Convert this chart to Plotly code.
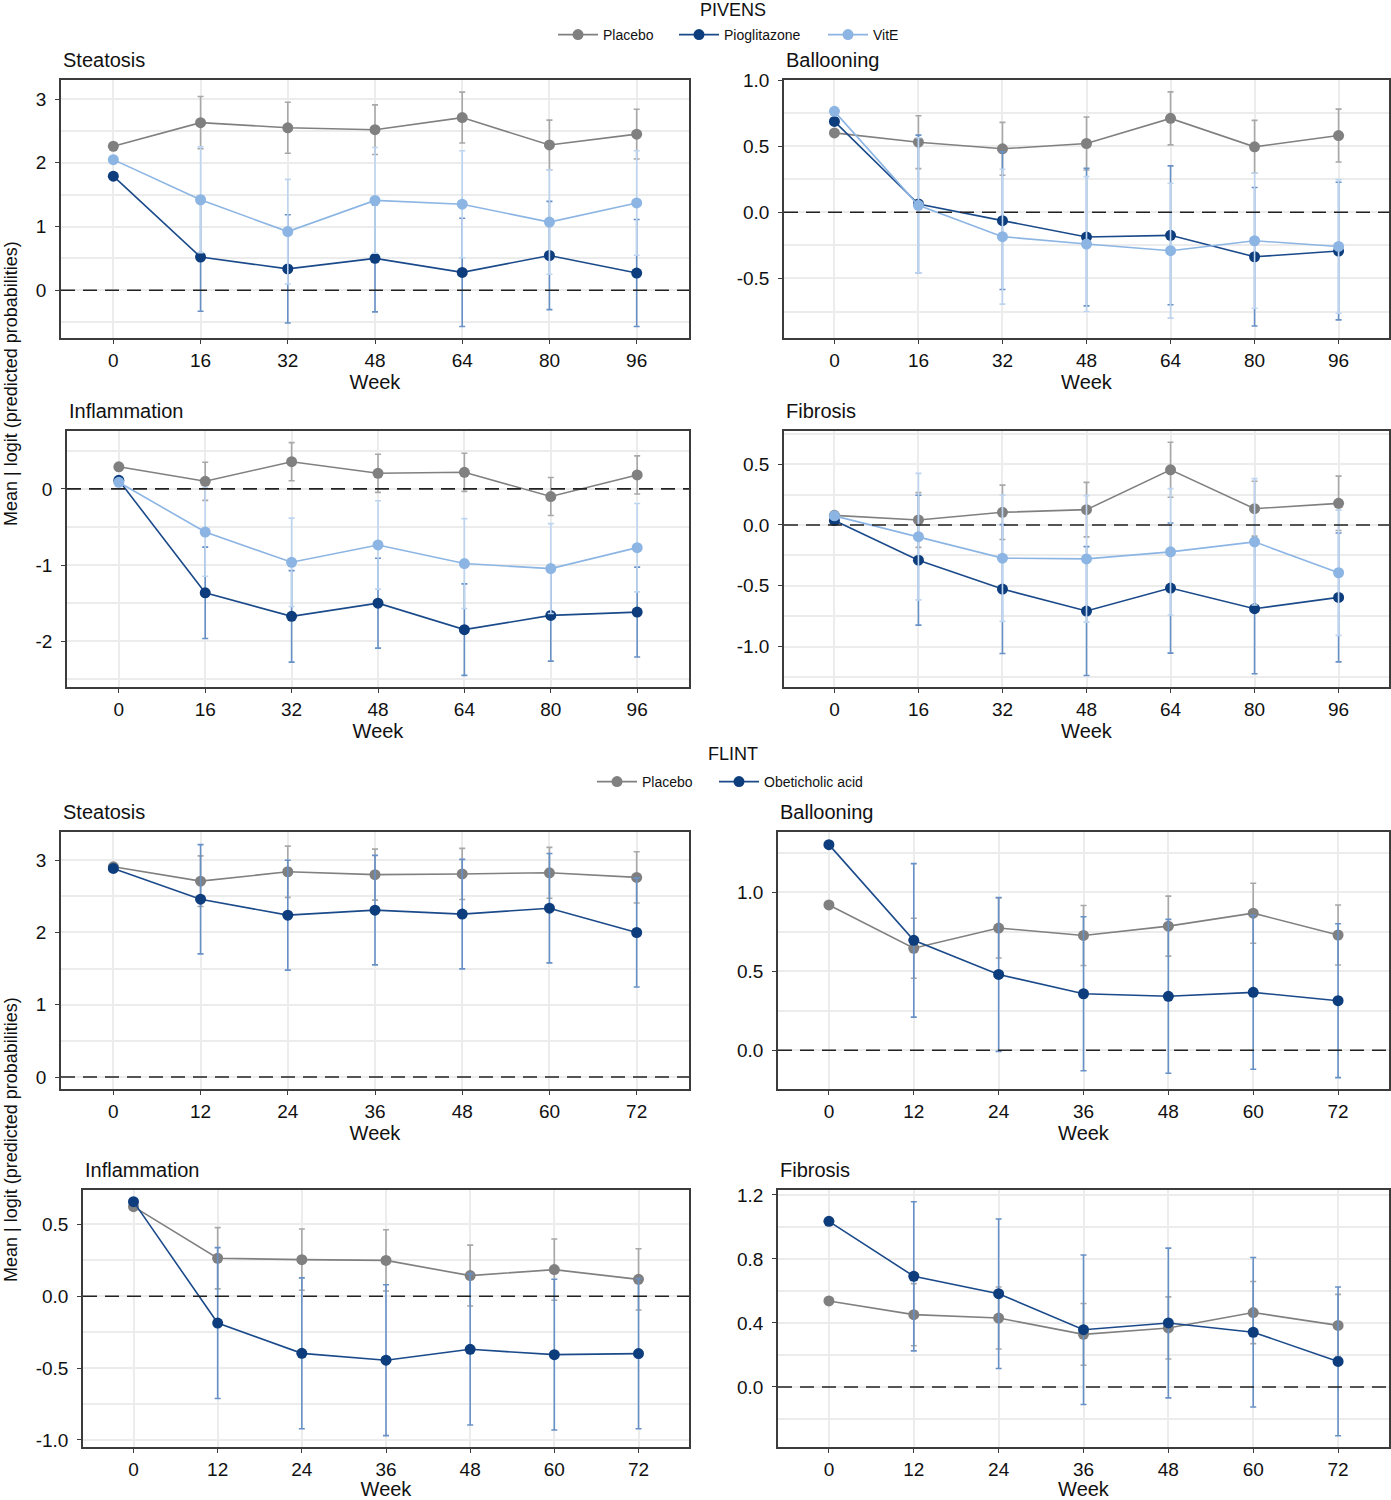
import plotly.graph_objects as go

# ---------------- DATA ----------------
piv_weeks = [0, 16, 32, 48, 64, 80, 96]
flint_weeks = [0, 12, 24, 36, 48, 60, 72]

# PIVENS - Steatosis
piv_steat_placebo = [2.26, 2.63, 2.55, 2.52, 2.71, 2.28, 2.45]
piv_steat_placebo_ci = [None, 0.41, 0.40, 0.39, 0.40, 0.39, 0.39]
piv_steat_pio = [1.79, 0.52, 0.335, 0.50, 0.28, 0.545, 0.27]
piv_steat_pio_ci = [None, 0.85, 0.85, 0.84, 0.85, 0.85, 0.84]
piv_steat_vite = [2.05, 1.42, 0.92, 1.41, 1.35, 1.07, 1.37]
piv_steat_vite_ci = [None, 0.83, 0.82, 0.83, 0.84, 0.82, 0.82]

# PIVENS - Ballooning
piv_ball_placebo = [0.60, 0.53, 0.48, 0.52, 0.71, 0.495, 0.58]
piv_ball_placebo_ci = [None, 0.20, 0.20, 0.20, 0.20, 0.20, 0.20]
piv_ball_pio = [0.687, 0.063, -0.063, -0.187, -0.174, -0.336, -0.293]
piv_ball_pio_ci = [None, 0.52, 0.52, 0.52, 0.525, 0.523, 0.52]
piv_ball_vite = [0.763, 0.053, -0.184, -0.24, -0.29, -0.215, -0.258]
piv_ball_vite_ci = [None, 0.51, 0.51, 0.51, 0.51, 0.51, 0.505]

# PIVENS - Inflammation
piv_infl_placebo = [0.29, 0.10, 0.357, 0.205, 0.218, -0.10, 0.183]
piv_infl_placebo_ci = [None, 0.25, 0.25, 0.25, 0.25, 0.25, 0.25]
piv_infl_pio = [0.113, -1.364, -1.673, -1.50, -1.847, -1.66, -1.617]
piv_infl_pio_ci = [None, 0.60, 0.60, 0.59, 0.60, 0.60, 0.59]
piv_infl_vite = [0.087, -0.566, -0.963, -0.736, -0.98, -1.046, -0.771]
piv_infl_vite_ci = [None, 0.58, 0.58, 0.58, 0.59, 0.59, 0.58]

# PIVENS - Fibrosis
piv_fib_placebo = [0.079, 0.041, 0.104, 0.126, 0.454, 0.134, 0.178]
piv_fib_placebo_ci = [None, 0.225, 0.224, 0.224, 0.226, 0.226, 0.224]
piv_fib_pio = [0.036, -0.29, -0.527, -0.708, -0.519, -0.689, -0.596]
piv_fib_pio_ci = [None, 0.534, 0.53, 0.53, 0.535, 0.535, 0.53]
piv_fib_vite = [0.075, -0.096, -0.273, -0.279, -0.221, -0.139, -0.393]
piv_fib_vite_ci = [None, 0.52, 0.52, 0.52, 0.52, 0.52, 0.515]

# FLINT - Steatosis
fl_steat_placebo = [2.909, 2.71, 2.84, 2.80, 2.81, 2.826, 2.762]
fl_steat_placebo_ci = [None, 0.35, 0.355, 0.353, 0.353, 0.352, 0.355]
fl_steat_oca = [2.886, 2.46, 2.24, 2.309, 2.254, 2.336, 2.0]
fl_steat_oca_ci = [None, 0.756, 0.76, 0.757, 0.758, 0.757, 0.755]

# FLINT - Ballooning
fl_ball_placebo = [0.920, 0.646, 0.774, 0.727, 0.786, 0.868, 0.73]
fl_ball_placebo_ci = [None, 0.19, 0.19, 0.19, 0.19, 0.19, 0.19]
fl_ball_oca = [1.302, 0.696, 0.48, 0.358, 0.342, 0.367, 0.314]
fl_ball_oca_ci = [None, 0.486, 0.487, 0.487, 0.487, 0.487, 0.487]

# FLINT - Inflammation
fl_infl_placebo = [0.624, 0.265, 0.255, 0.25, 0.144, 0.186, 0.118]
fl_infl_placebo_ci = [None, 0.213, 0.213, 0.213, 0.212, 0.213, 0.213]
fl_infl_oca = [0.659, -0.186, -0.397, -0.445, -0.369, -0.406, -0.399]
fl_infl_oca_ci = [None, 0.525, 0.525, 0.525, 0.527, 0.525, 0.523]

# FLINT - Fibrosis
fl_fib_placebo = [0.5375, 0.452, 0.431, 0.329, 0.369, 0.465, 0.385]
fl_fib_placebo_ci = [None, 0.194, 0.194, 0.193, 0.194, 0.194, 0.194]
fl_fib_oca = [1.035, 0.692, 0.583, 0.358, 0.40, 0.342, 0.16]
fl_fib_oca_ci = [None, 0.466, 0.467, 0.467, 0.468, 0.467, 0.465]

panel_titles = ["Steatosis", "Ballooning", "Inflammation", "Fibrosis"]
piv_groups = ["Placebo", "Pioglitazone", "VitE"]
flint_groups = ["Placebo", "Obeticholic acid"]

# y tick values (labels use plain hyphen minus as in the original)
ytick_sets = [
    [0, 1, 2, 3],
    [-0.5, 0.0, 0.5, 1.0],
    [-2, -1, 0],
    [-1.0, -0.5, 0.0, 0.5],
    [0, 1, 2, 3],
    [0.0, 0.5, 1.0],
    [-1.0, -0.5, 0.0, 0.5],
    [0.0, 0.4, 0.8, 1.2],
]

# ---------------- STYLE ----------------
W, H = 1391, 1500
NARROW = "Liberation Sans Narrow, Arial Narrow, Liberation Sans, sans-serif"
REG = "Liberation Sans, Arial, sans-serif"

styles = {
    "Placebo": dict(line="#808080", marker="#808080", err="#a8a8a8"),
    "Pioglitazone": dict(line="#1b4a8a", marker="#0d3d7d", err="#6791c6"),
    "VitE": dict(line="#8cb5e4", marker="#8cb5e4", err="#bdd5f0"),
    "Obeticholic acid": dict(line="#1b4a8a", marker="#0d3d7d", err="#6791c6"),
}

# panel boxes in pixels: (left, right, top, bottom)
boxes = [
    (61, 689, 80, 338), (784, 1389, 80, 338),
    (67, 689, 431, 687), (784, 1389, 431, 687),
    (61, 689, 832, 1089), (778, 1389, 832, 1089),
    (83, 689, 1190, 1447), (778, 1389, 1190, 1447),
]
yranges = [(-0.75, 3.30), (-0.95, 1.0), (-2.60, 0.76), (-1.333, 0.773),
           (-0.165, 3.39), (-0.245, 1.382), (-1.049, 0.74), (-0.375, 1.231)]
yfmts = ["{:.0f}", "{:.1f}", "{:.0f}", "{:.1f}", "{:.0f}", "{:.1f}", "{:.1f}", "{:.1f}"]

panels_data = [
    (piv_weeks, [(piv_groups[0], piv_steat_placebo, piv_steat_placebo_ci),
                 (piv_groups[1], piv_steat_pio, piv_steat_pio_ci),
                 (piv_groups[2], piv_steat_vite, piv_steat_vite_ci)]),
    (piv_weeks, [(piv_groups[0], piv_ball_placebo, piv_ball_placebo_ci),
                 (piv_groups[1], piv_ball_pio, piv_ball_pio_ci),
                 (piv_groups[2], piv_ball_vite, piv_ball_vite_ci)]),
    (piv_weeks, [(piv_groups[0], piv_infl_placebo, piv_infl_placebo_ci),
                 (piv_groups[1], piv_infl_pio, piv_infl_pio_ci),
                 (piv_groups[2], piv_infl_vite, piv_infl_vite_ci)]),
    (piv_weeks, [(piv_groups[0], piv_fib_placebo, piv_fib_placebo_ci),
                 (piv_groups[1], piv_fib_pio, piv_fib_pio_ci),
                 (piv_groups[2], piv_fib_vite, piv_fib_vite_ci)]),
    (flint_weeks, [(flint_groups[0], fl_steat_placebo, fl_steat_placebo_ci),
                   (flint_groups[1], fl_steat_oca, fl_steat_oca_ci)]),
    (flint_weeks, [(flint_groups[0], fl_ball_placebo, fl_ball_placebo_ci),
                   (flint_groups[1], fl_ball_oca, fl_ball_oca_ci)]),
    (flint_weeks, [(flint_groups[0], fl_infl_placebo, fl_infl_placebo_ci),
                   (flint_groups[1], fl_infl_oca, fl_infl_oca_ci)]),
    (flint_weeks, [(flint_groups[0], fl_fib_placebo, fl_fib_placebo_ci),
                   (flint_groups[1], fl_fib_oca, fl_fib_oca_ci)]),
]

# legend entries: (legend id, marker centre x px, centre y px)
legend_pos = {
    ("piv", "Placebo"): ("legend", 581, 35),
    ("piv", "Pioglitazone"): ("legend2", 702, 35),
    ("piv", "VitE"): ("legend3", 851, 35),
    ("fl", "Placebo"): ("legend4", 620, 782),
    ("fl", "Obeticholic acid"): ("legend5", 742, 782),
}

fig = go.Figure()
layout = dict(width=W, height=H, margin=dict(l=0, r=0, t=0, b=0, autoexpand=False),
              paper_bgcolor="white", plot_bgcolor="white", showlegend=True)
shapes, annotations = [], []


def px_x(p):
    return p / W


def px_y(p):
    return 1 - p / H


for i, (weeks, series) in enumerate(panels_data):
    n = i + 1
    xa = "x" if n == 1 else f"x{n}"
    ya = "y" if n == 1 else f"y{n}"
    xkey = "xaxis" if n == 1 else f"xaxis{n}"
    ykey = "yaxis" if n == 1 else f"yaxis{n}"
    l, r, t, b = boxes[i]
    is_piv = i < 4
    xr = [-0.1 * weeks[-1], 1.1 * weeks[-1]]
    layout[xkey] = dict(
        domain=[px_x(l), px_x(r)], anchor=ya, range=xr, automargin=False,
        tickvals=weeks, ticktext=[str(w) for w in weeks],
        showline=True, mirror=True, linecolor="#3c3c3c", linewidth=1.5,
        showgrid=True, gridcolor="#ececec", gridwidth=1.5, zeroline=False,
        ticks="outside", ticklen=4, tickcolor="#3c3c3c",
        tickfont=dict(family=NARROW, size=19, color="#111"),
        title=dict(text="Week", font=dict(family=NARROW, size=20, color="#111"), standoff=2),
    )
    y0, y1 = yranges[i]
    tv = ytick_sets[i]
    step = tv[1] - tv[0]
    layout[ykey] = dict(
        domain=[px_y(b), px_y(t)], anchor=xa, range=[y0, y1], automargin=False,
        tickvals=tv, ticktext=[yfmts[i].format(v) for v in tv],
        showline=True, mirror=True, linecolor="#3c3c3c", linewidth=1.5,
        showgrid=True, gridcolor="#ececec", gridwidth=1.5, zeroline=False,
        minor=dict(dtick=step / 2, tick0=0, showgrid=True, gridcolor="#ececec", gridwidth=1.5),
        ticks="outside", ticklen=4, tickcolor="#3c3c3c", ticklabelstandoff=5,
        tickfont=dict(family=NARROW, size=19, color="#111"),
    )
    shapes.append(dict(type="line", xref=f"{xa} domain", yref=ya, x0=0, x1=1, y0=0, y1=0,
                       line=dict(color="#222", width=1.6, dash="14px,8px"), layer="above"))
    annotations.append(dict(text=panel_titles[i % 4], x=px_x(l), y=px_y(t - 20),
                            xref="paper", yref="paper", xanchor="left", yanchor="middle",
                            showarrow=False, font=dict(family=NARROW, size=20, color="#111")))
    for name, vals, ci in series:
        st = styles[name]
        err = [c if c is not None else 0 for c in ci]
        show = (i == 0 or i == 4)
        lg = legend_pos[("piv" if is_piv else "fl", name)][0]
        fig.add_trace(go.Scatter(
            x=weeks, y=vals, name=name, mode="lines+markers",
            xaxis=xa, yaxis=ya,
            line=dict(color=st["line"], width=1.6),
            marker=dict(color=st["marker"], size=11),
            error_y=dict(type="data", array=err, visible=True, color=st["err"],
                         thickness=1.6, width=3),
            showlegend=show, legend=lg,
        ))

for (grp, name), (lg, cx, cy) in legend_pos.items():
    layout[lg] = dict(orientation="h", x=px_x(cx - 28), y=px_y(cy), xanchor="left",
                      yanchor="middle", itemwidth=40,
                      font=dict(family=NARROW, size=14, color="#111"),
                      bgcolor="rgba(0,0,0,0)")

annotations.append(dict(text="PIVENS", x=px_x(733), y=px_y(10), xref="paper", yref="paper",
                        xanchor="center", yanchor="middle", showarrow=False,
                        font=dict(family=REG, size=18, color="#111")))
annotations.append(dict(text="FLINT", x=px_x(733), y=px_y(754), xref="paper", yref="paper",
                        xanchor="center", yanchor="middle", showarrow=False,
                        font=dict(family=REG, size=18, color="#111")))
for yc in (384, 1140):
    annotations.append(dict(text="Mean | logit (predicted probabilities)", x=px_x(11), y=px_y(yc),
                            xref="paper", yref="paper", xanchor="center", yanchor="middle",
                            textangle=-90, showarrow=False,
                            font=dict(family=REG, size=18, color="#111")))

layout["shapes"] = shapes
layout["annotations"] = annotations
fig.update_layout(**layout)
fig.write_html("out.html", config={"displayModeBar": False},
               post_script="document.body.style.margin='0px';")
